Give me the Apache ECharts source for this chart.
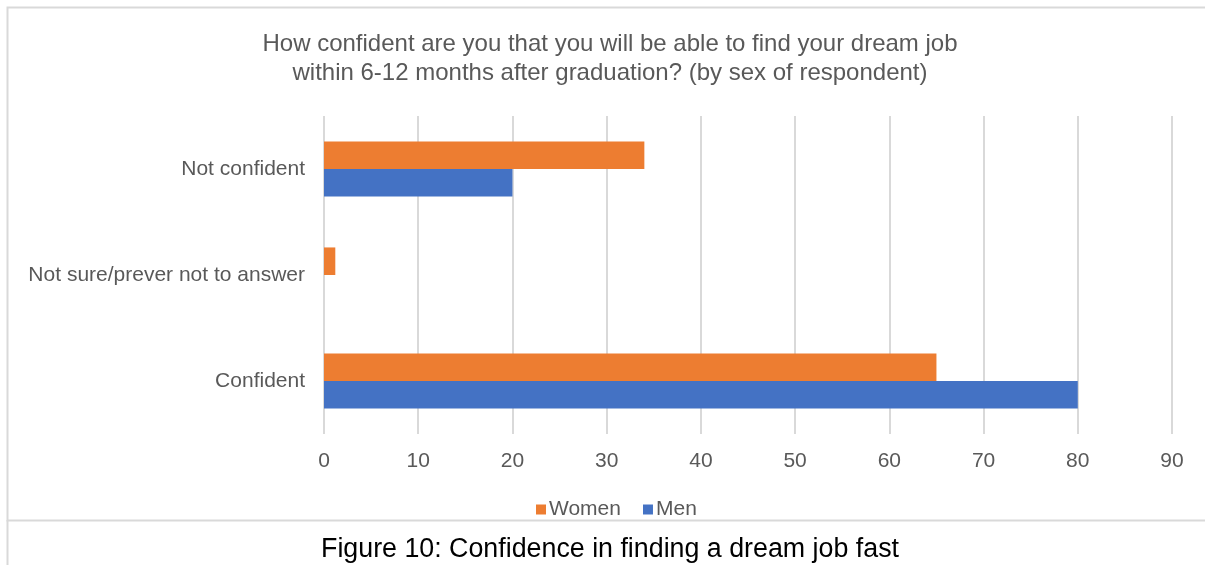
<!DOCTYPE html>
<html>
<head>
<meta charset="utf-8">
<script src="https://cdn.jsdelivr.net/npm/echarts@6/dist/echarts.min.js"></script>
<style>
  html, body { margin: 0; padding: 0; background: #fff; }
  #chart { width: 1205px; height: 565px; }
</style>
</head>
<body>
<div id="chart"></div>
<script>
// Response categories (bottom to top on the value chart)
const categories = ['Confident', 'Not sure/prever not to answer', 'Not confident'];
// Share of respondents, by sex
const women = [65, 1.2, 34];
const men = [80, 0, 20];
const xTicks = { min: 0, max: 90, interval: 10 };

const FONT = '"Liberation Sans", Arial, sans-serif';
const GREY_TEXT = '#595959';
const GRID_GREY = '#d9d9d9';

const chart = echarts.init(document.getElementById('chart'), null, { renderer: 'canvas' });

chart.setOption({
  backgroundColor: '#ffffff',
  animation: false,
  textStyle: { fontFamily: FONT },
  title: [
    {
      text: 'How confident are you that you will be able to find your dream job\nwithin 6-12 months after graduation? (by sex of respondent)',
      left: 605,
      top: 25,
      textAlign: 'center',
      textStyle: { fontFamily: FONT, fontSize: 24, fontWeight: 'normal', color: GREY_TEXT, lineHeight: 29 }
    },
    {
      text: 'Figure 10: Confidence in finding a dream job fast',
      left: 605,
      top: 531,
      textAlign: 'center',
      textStyle: { fontFamily: FONT, fontSize: 26.8, fontWeight: 'normal', color: '#000000' }
    }
  ],
  legend: {
    data: ['Women', 'Men'],
    left: 531,
    top: 494,
    itemWidth: 10,
    itemHeight: 10,
    itemGap: 22,
    icon: 'rect',
    textStyle: { fontFamily: FONT, fontSize: 21, color: GREY_TEXT, padding: [0, 0, 0, -2] }
  },
  grid: { left: 324, right: 33, top: 116, bottom: 131, containLabel: false },
  xAxis: {
    type: 'value',
    min: xTicks.min,
    max: xTicks.max,
    interval: xTicks.interval,
    axisLine: { show: false },
    axisTick: { show: false },
    axisLabel: { color: GREY_TEXT, fontSize: 21, fontFamily: FONT, margin: 17 },
    splitLine: { show: true, lineStyle: { color: GRID_GREY, width: 2 } }
  },
  yAxis: {
    type: 'category',
    data: categories,
    axisLine: { show: false },
    axisTick: { show: false },
    axisLabel: { color: GREY_TEXT, fontSize: 21, fontFamily: FONT, margin: 19 },
    splitLine: { show: false }
  },
  series: [
    {
      name: 'Women',
      type: 'bar',
      data: women,
      barGap: '0%',
      barCategoryGap: '48%',
      itemStyle: { color: '#ed7d31' }
    },
    {
      name: 'Men',
      type: 'bar',
      data: men,
      barGap: '0%',
      barCategoryGap: '48%',
      itemStyle: { color: '#4472c4' }
    }
  ],
  graphic: [
    {
      type: 'rect',
      shape: { x: 7.5, y: 7.5, width: 1220, height: 513 },
      style: { fill: null, stroke: GRID_GREY, lineWidth: 2 },
      silent: true,
      z: -1
    },
    {
      type: 'line',
      shape: { x1: 7.5, y1: 520, x2: 7.5, y2: 570 },
      style: { stroke: GRID_GREY, lineWidth: 2 },
      silent: true,
      z: -1
    }
  ]
});
</script>
</body>
</html>
